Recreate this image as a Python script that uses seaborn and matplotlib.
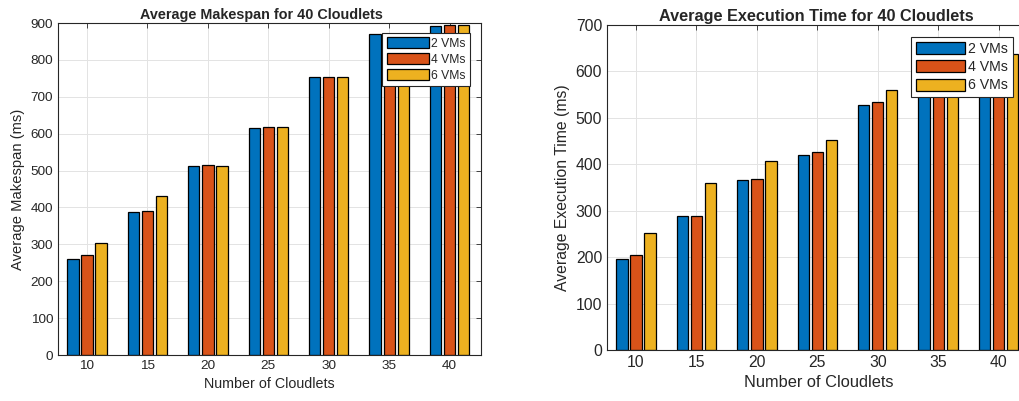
import pandas as pd
import seaborn as sns
import matplotlib.pyplot as plt
import numpy as np

# Data
cloudlets = [10, 15, 20, 25, 30, 35, 40]
vm_labels = ['2 VMs', '4 VMs', '6 VMs']

makespan_2vm = [261, 388, 512, 616, 754, 870, 893]
makespan_4vm = [270, 390, 514, 618, 754, 870, 895]
makespan_6vm = [304, 431, 513, 619, 754, 870, 895]

exec_2vm = [196, 288, 366, 419, 527, 585, 600]
exec_4vm = [205, 289, 368, 427, 535, 595, 610]
exec_6vm = [252, 360, 407, 453, 560, 615, 638]

colors = ['#0072BD', '#D95319', '#EDB120']


def to_long(a, b, c):
    rows = []
    for vm, vals in zip(vm_labels, [a, b, c]):
        for n, v in zip(cloudlets, vals):
            rows.append({'cloudlets': n, 'vms': vm, 'value': v})
    return pd.DataFrame(rows)


df_make = to_long(makespan_2vm, makespan_4vm, makespan_6vm)
df_exec = to_long(exec_2vm, exec_4vm, exec_6vm)

sns.set_style('white')
plt.rcParams['font.family'] = ['Liberation Sans', 'DejaVu Sans']

fig = plt.figure(figsize=(10.19, 4.01), dpi=100)
ax1 = fig.add_axes([58 / 1019, 46 / 401, 423 / 1019, 332 / 401])
ax2 = fig.add_axes([607 / 1019, 51 / 401, 423 / 1019, 325 / 401])


def draw(ax, df, title, ylabel, ymax, fs_title, fs_tick, fs_x, fs_y, fs_leg,
         legend_anchor, title_x):
    sns.barplot(data=df, x='cloudlets', y='value', hue='vms', palette=colors,
                width=0.7, gap=0.2, edgecolor='black', linewidth=0.9,
                saturation=1, ax=ax)
    ax.set_xlim(-0.48, 6.52)
    ax.set_ylim(0, ymax)
    ax.set_yticks(np.arange(0, ymax + 1, 100))
    ax.set_title(title, fontsize=fs_title, fontweight='bold', pad=3, x=title_x)
    ax.set_xlabel('Number of Cloudlets', fontsize=fs_x, color='#262626')
    ax.set_ylabel(ylabel, fontsize=fs_y, color='#262626')
    ax.grid(True, color='#e3e3e3', linewidth=0.7)
    ax.set_axisbelow(True)
    ax.tick_params(direction='in', top=True, right=True, length=3.5,
                   labelsize=fs_tick, colors='#262626', width=0.6)
    for s in ax.spines.values():
        s.set_color('#262626')
        s.set_linewidth(0.8)
    leg = ax.legend(loc='upper right', bbox_to_anchor=legend_anchor,
                    fancybox=False, edgecolor='#262626', framealpha=1,
                    fontsize=fs_leg, handlelength=3.5, handleheight=0.95,
                    handletextpad=0.2, borderpad=0.35, labelspacing=0.3,
                    borderaxespad=0)
    leg.get_frame().set_linewidth(0.8)


draw(ax1, df_make, 'Average Makespan for 40 Cloudlets', 'Average Makespan (ms)',
     900, 10.4, 9.7, 10.3, 10.6, 8.7, (0.974, 0.97), 0.48)
draw(ax2, df_exec, 'Average Execution Time for 40 Cloudlets',
     'Average Execution Time (ms)', 700, 11.7, 11.3, 11.8, 11.3, 10.2,
     (0.96, 0.963), 0.495)

fig.savefig('out.png', dpi=100)
